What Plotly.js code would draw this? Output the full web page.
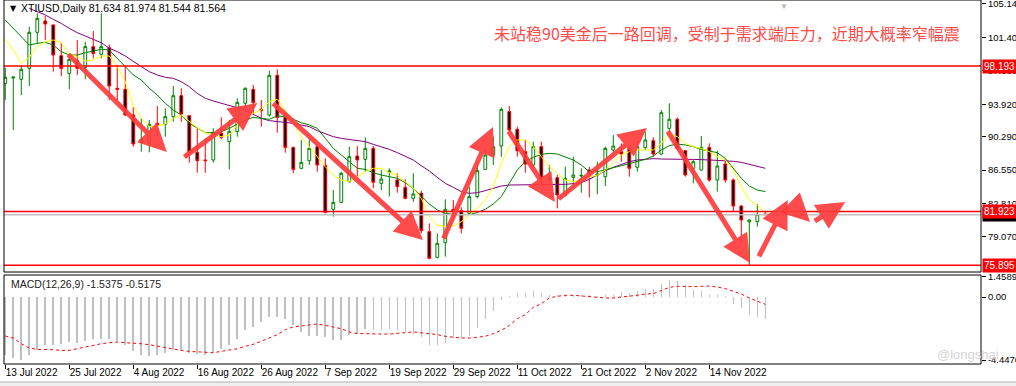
<!DOCTYPE html>
<html>
<head>
<meta charset="utf-8">
<script src="https://cdn.plot.ly/plotly-3.0.1.min.js"></script>
<style>body{margin:0;background:#fff;overflow:hidden}</style>
</head>
<body>
<div id="chart" style="width:1016px;height:386px"></div>
<script>
// ---------- DATA ----------
const dates = ["13 Jul 2022","14 Jul 2022","15 Jul 2022","18 Jul 2022","19 Jul 2022","20 Jul 2022","21 Jul 2022","22 Jul 2022","25 Jul 2022","26 Jul 2022","27 Jul 2022","28 Jul 2022","29 Jul 2022",
"1 Aug 2022","2 Aug 2022","3 Aug 2022","4 Aug 2022","5 Aug 2022","8 Aug 2022","9 Aug 2022","10 Aug 2022","11 Aug 2022","12 Aug 2022","15 Aug 2022","16 Aug 2022","17 Aug 2022","18 Aug 2022","19 Aug 2022","22 Aug 2022","23 Aug 2022","24 Aug 2022","25 Aug 2022","26 Aug 2022","29 Aug 2022","30 Aug 2022","31 Aug 2022",
"1 Sep 2022","2 Sep 2022","5 Sep 2022","6 Sep 2022","7 Sep 2022","8 Sep 2022","9 Sep 2022","12 Sep 2022","13 Sep 2022","14 Sep 2022","15 Sep 2022","16 Sep 2022","19 Sep 2022","20 Sep 2022","21 Sep 2022","22 Sep 2022","23 Sep 2022","26 Sep 2022","27 Sep 2022","28 Sep 2022","29 Sep 2022","30 Sep 2022",
"3 Oct 2022","4 Oct 2022","5 Oct 2022","6 Oct 2022","7 Oct 2022","10 Oct 2022","11 Oct 2022","12 Oct 2022","13 Oct 2022","14 Oct 2022","17 Oct 2022","18 Oct 2022","19 Oct 2022","20 Oct 2022","21 Oct 2022","24 Oct 2022","25 Oct 2022","26 Oct 2022","27 Oct 2022","28 Oct 2022","31 Oct 2022",
"1 Nov 2022","2 Nov 2022","3 Nov 2022","4 Nov 2022","7 Nov 2022","8 Nov 2022","9 Nov 2022","10 Nov 2022","11 Nov 2022","14 Nov 2022","15 Nov 2022","16 Nov 2022","17 Nov 2022","18 Nov 2022","21 Nov 2022","22 Nov 2022","23 Nov 2022"];

const openP = [96.25,96.85,96.7,97.93,101.96,103.22,102.78,99.35,97.37,98.79,
98.04,100.36,99.5,100.24,95.7,95.58,92.71,89.65,89.62,91.78,
91.67,92.53,94.87,92.64,88.54,87.68,87.68,90.66,89.73,90.85,
94.02,95.58,93.35,92.71,97.15,92.45,89.09,86.75,87.6,89.17,
87.08,82.16,82.94,85.25,88.12,87.75,88.98,85.07,86.3,85.44,
84.62,83.39,83.95,79.66,76.79,78.43,82.16,82.01,81.71,83.58,
86.63,88.24,89.24,93.09,91.11,88.61,87.12,89.17,85.5,85.7,
83.76,85.74,85.89,86.56,86.0,85.81,88.8,88.61,88.98,86.86,
89.06,89.84,88.35,91.22,92.23,88.72,86.75,86.56,89.09,85.44,
87.23,85.44,82.53,80.75,80.78,81.634];

const highP = [98.0,97.0,98.3,102.6,104.08,103.78,102.85,100.8,99.6,101.1,
100.91,102.1,104.08,100.62,98.3,98.19,93.57,92.34,92.15,93.72,
93.46,95.95,95.7,92.71,91.22,90.1,91.22,92.45,92.15,94.58,
95.8,96.07,94.39,97.67,97.82,92.9,89.17,89.92,90.1,89.24,
87.86,84.32,86.37,89.17,89.24,90.21,89.24,86.56,86.75,86.19,
85.52,86.19,84.25,80.59,79.47,83.28,83.2,82.38,84.7,87.49,
89.17,90.29,93.57,93.72,91.41,89.92,89.73,89.73,87.1,86.0,
86.93,88.05,86.75,86.93,87.49,89.17,90.47,89.54,89.17,89.73,
90.85,90.21,93.27,94.02,92.45,88.8,87.68,90.36,89.54,88.72,
87.75,85.63,82.64,81.05,82.76,81.974];

const lowP = [94.4,91.03,94.95,95.95,100.73,101.1,97.56,97.07,95.58,97.19,
96.7,99.05,99.05,94.39,94.39,92.6,89.17,88.61,88.54,90.29,
90.29,91.96,91.96,87.38,86.26,86.26,87.38,89.99,86.63,90.29,
92.9,92.71,91.41,92.53,90.74,88.5,86.19,86.63,87.12,86.37,
81.71,81.34,82.83,85.14,85.81,86.37,84.51,84.32,83.6,84.02,
83.28,83.02,79.47,76.57,76.68,76.87,80.97,79.47,81.53,83.39,
86.56,87.12,88.05,90.74,88.05,86.26,86.93,85.07,84.9,82.27,
83.58,84.7,84.02,83.5,83.84,84.77,88.12,87.49,85.81,86.37,
88.8,88.05,88.24,90.74,88.87,85.81,85.07,86.49,85.25,84.14,
85.14,81.9,78.54,75.895,80.22,81.544];

const closeP = [96.93,96.95,97.82,101.96,103.52,102.89,99.42,97.93,98.94,97.93,
100.36,99.6,100.36,95.95,95.58,92.71,89.47,89.99,91.67,91.56,
92.53,94.87,92.82,88.54,87.6,87.6,90.74,90.21,90.85,94.13,
95.7,94.09,93.2,97.15,92.45,89.09,86.63,87.42,88.98,87.12,
81.82,82.94,86.19,88.05,87.68,88.98,85.18,85.55,86.45,84.7,
83.39,83.88,79.77,76.68,78.36,82.16,81.97,80.04,83.58,86.49,
88.24,89.17,93.35,91.03,88.72,87.23,89.17,85.63,85.65,83.76,
85.63,86.0,85.96,86.19,86.1,88.98,89.24,88.35,86.75,89.17,
89.92,88.35,92.97,92.23,88.98,86.0,87.49,89.09,85.44,87.01,
85.44,82.53,80.97,80.97,81.6,81.564];

const maYellow = [101.17,99.98,98.49,99.16,100.36,100.91,101.1,100.8,99.53,99.24,
98.75,98.86,99.31,99.31,98.12,96.44,93.72,92.34,91.41,91.48,
91.71,92.34,92.71,91.96,91.3,90.74,90.47,90.29,90.47,91.59,
92.71,92.9,93.27,94.2,94.46,93.27,91.78,90.29,89.17,88.05,
86.93,86.0,85.44,85.25,85.81,86.37,86.75,86.75,86.26,86.0,
85.25,84.51,83.39,81.34,80.41,80.22,80.29,80.78,81.53,82.27,
83.2,84.7,87.3,89.17,89.92,89.92,89.17,88.05,86.93,86.19,
85.44,85.25,85.5,85.81,86.0,86.56,87.3,88.24,88.61,88.8,
88.8,88.8,89.54,90.66,90.29,89.54,89.17,88.98,88.61,88.05,
87.68,86.56,84.7,83.2,82.64,81.7];

const maGreen = [103.34,102.4,101.47,100.54,100.73,100.84,100.54,99.8,99.42,99.42,
99.68,99.91,100.06,99.98,99.05,98.12,97.19,96.63,95.7,94.95,
94.02,93.27,92.71,91.78,91.22,90.74,90.74,90.85,91.22,91.71,
92.15,92.45,92.34,92.23,92.6,92.53,92.23,91.85,91.59,91.22,
90.1,88.98,88.24,87.49,86.75,86.63,86.26,86.0,85.81,85.63,
85.14,84.51,83.65,82.76,82.09,81.71,81.6,81.53,81.6,81.79,
82.16,82.76,83.58,85.14,86.56,87.49,87.98,88.31,88.42,88.35,
88.05,87.68,87.12,86.37,86.37,86.56,86.82,87.04,87.3,87.49,
87.75,88.12,88.8,89.28,89.47,89.36,89.17,88.87,88.72,88.5,
87.86,86.75,85.63,84.77,84.32,84.14];

const maPurple = [null,null,null,104.64,104.27,103.9,103.41,102.96,102.4,101.92,
101.55,101.17,100.8,100.17,99.8,99.31,98.68,98.12,97.56,97.19,
96.93,96.81,96.44,95.88,95.13,94.58,94.28,94.02,93.79,93.57,
93.27,92.79,92.34,92.08,92.0,91.93,91.78,91.59,91.41,90.96,
90.66,90.29,90.1,89.99,89.84,89.73,89.43,89.17,88.87,88.5,
88.05,87.68,87.04,86.45,85.74,85.07,84.62,84.14,83.95,84.02,
84.25,84.51,84.77,84.88,84.88,84.96,84.96,84.88,84.88,84.88,
84.96,85.03,85.14,85.52,86.0,86.48,86.86,87.19,87.49,87.68,
87.79,87.83,87.79,87.75,87.75,87.75,87.75,87.75,87.68,87.64,
87.6,87.53,87.42,87.19,87.01,86.75];

const macdMain = [-4.06,-4.30,-4.46,-4.06,-3.76,-3.40,-3.40,-3.29,-3.17,-3.24,
-3.12,-2.98,-2.93,-2.98,-3.12,-3.40,-3.83,-4.11,-4.15,-4.06,
-3.92,-3.76,-3.76,-3.92,-3.99,-4.06,-3.87,-3.64,-3.36,-2.93,
-2.35,-2.11,-1.76,-1.41,-1.41,-1.57,-2.00,-2.46,-2.75,-2.75,
-2.82,-3.05,-3.05,-2.70,-2.58,-2.28,-2.35,-2.35,-2.23,-2.35,
-2.46,-2.58,-2.82,-3.40,-3.40,-3.22,-2.89,-2.89,-2.75,-2.18,
-1.53,-1.01,-0.23,0.07,0.28,0.28,0.45,0.28,0.16,0.12,
0.16,0.12,0.12,0.12,0.05,0.12,0.16,0.35,0.28,0.45,
0.59,0.59,0.92,1.22,1.15,0.87,0.52,0.45,0.12,0.12,
0.05,-0.49,-0.77,-1.24,-1.43,-1.5375];

const macdSignal = [-2.75,-2.89,-3.29,-3.59,-3.69,-3.69,-3.71,-3.76,-3.76,-3.64,
-3.52,-3.40,-3.29,-3.22,-3.17,-3.22,-3.24,-3.29,-3.36,-3.47,
-3.59,-3.69,-3.76,-3.83,-3.87,-3.92,-3.92,-3.83,-3.76,-3.64,
-3.47,-3.33,-3.12,-2.89,-2.65,-2.30,-2.11,-2.04,-1.95,-1.90,
-2.00,-2.11,-2.23,-2.46,-2.58,-2.58,-2.61,-2.61,-2.61,-2.58,
-2.51,-2.46,-2.51,-2.58,-2.65,-2.77,-2.84,-2.89,-2.89,-2.82,
-2.77,-2.58,-2.35,-2.00,-1.53,-1.24,-0.73,-0.47,-0.07,0.05,
0.12,0.12,0.09,0.02,-0.02,-0.07,-0.07,0.00,0.05,0.12,
0.21,0.23,0.45,0.68,0.75,0.73,0.73,0.75,0.77,0.70,
0.59,0.40,0.21,-0.07,-0.31,-0.5175];

const tickLabels = ["13 Jul 2022","25 Jul 2022","4 Aug 2022","16 Aug 2022","26 Aug 2022","7 Sep 2022","19 Sep 2022","29 Sep 2022","11 Oct 2022","21 Oct 2022","2 Nov 2022","14 Nov 2022"];
const priceTicks = [105.140,101.400,97.660,93.920,90.290,86.550,82.810,79.070];
const macdTicks = [1.4589, 0, -4.4476];
const macdTickText = ["1.4589","0.00","-4.4476"];
const levels = [98.193, 81.923, 75.895];
const bidPrice = 81.564;

// trend arrows drawn on the chart: [tail bar index, tail price, head bar index, head price]
const arrowTailIdx   = [7.7, 22.2, 33.3, 54.7, 62.8, 68.96, 82.7, 94.1, 98.8, 101.0];
const arrowTailPrice = [99.65, 87.9, 94.17, 78.73, 91.04, 83.2, 91.04, 76.72, 82.31, 80.74];
const arrowHeadIdx   = [20.2, 31.5, 52.2, 60.96, 68.7, 80.2, 93.1, 97.8, 100.6, 104.97];
const arrowHeadPrice = [88.57, 94.05, 78.73, 91.37, 82.98, 91.26, 76.16, 83.2, 80.74, 82.98];

const headerText = "XTIUSD,Daily 81.634 81.974 81.544 81.564";
const macdText = "MACD(12,26,9) -1.5375 -0.5175";
const noteText = "未站稳90美金后一路回调，受制于需求端压力，近期大概率窄幅震";

// ---------- TRACES ----------
const FONT = "Liberation Sans, Arial, sans-serif";
const traces = [
  {type:'candlestick', x:dates, open:openP, high:highP, low:lowP, close:closeP,
   xaxis:'x', yaxis:'y', whiskerwidth:0, hoverinfo:'skip',
   increasing:{line:{color:'#008000', width:1}, fillcolor:'#ffffff'},
   decreasing:{line:{color:'#ff0000', width:1}, fillcolor:'#000000'}},
  {type:'scatter', mode:'lines', x:dates, y:maPurple, xaxis:'x', yaxis:'y', line:{color:'#800080', width:1}, hoverinfo:'skip'},
  {type:'scatter', mode:'lines', x:dates, y:maGreen, xaxis:'x', yaxis:'y', line:{color:'#008000', width:1}, hoverinfo:'skip'},
  {type:'scatter', mode:'lines', x:dates, y:maYellow, xaxis:'x', yaxis:'y', line:{color:'#ffff00', width:1}, hoverinfo:'skip'},
  {type:'bar', x:dates, y:macdMain, xaxis:'x', yaxis:'y2', width:0.2, marker:{color:'#c0c0c0', line:{width:0}}, hoverinfo:'skip'},
  {type:'scatter', mode:'lines', x:dates, y:macdSignal, xaxis:'x', yaxis:'y2', line:{color:'#ff0000', width:1, dash:'dot'}, hoverinfo:'skip'}
];

// ---------- LAYOUT ----------
const shapes = [];
shapes.push({type:'rect', layer:'below', xref:'paper', yref:'paper', x0:-0.01, x1:1.05, y0:-0.075, y1:-0.0495, fillcolor:'#f0f0f0', line:{width:0}});
shapes.push({type:'line', layer:'below', xref:'paper', yref:'paper', x0:-0.01, x1:1.05, y0:-0.0495, y1:-0.0495, line:{color:'#b0b0b0', width:1}});
levels.forEach(v => shapes.push({type:'line', xref:'paper', yref:'y', x0:0, x1:1, y0:v, y1:v, line:{color:'#ff0000', width:1.5}}));
shapes.push({type:'line', xref:'paper', yref:'y', x0:0, x1:1, y0:bidPrice, y1:bidPrice, line:{color:'#c0c0c0', width:1.5}});
shapes.push({type:'rect', xref:'paper', yref:'y domain', x0:0, x1:1, y0:0, y1:1, line:{color:'#000', width:1}});
shapes.push({type:'rect', xref:'paper', yref:'y2 domain', x0:0, x1:1, y0:0, y1:1, line:{color:'#000', width:1}});

const annotations = [];
for (let k = 0; k < arrowTailIdx.length; k++) {
  annotations.push({xref:'x', yref:'y', axref:'x', ayref:'y',
    x:arrowHeadIdx[k], y:arrowHeadPrice[k], ax:arrowTailIdx[k], ay:arrowTailPrice[k],
    text:'', showarrow:true, arrowhead:2, arrowsize:1.12, arrowwidth:5,
    arrowcolor:'rgba(255,60,60,0.92)', standoff:0, startstandoff:0});
}
annotations.push({xref:'paper', yref:'paper', x:0.0045, y:0.978, xanchor:'left', yanchor:'middle', showarrow:false,
  text:'▼', font:{family:'DejaVu Sans', size:8, color:'#000'}});
annotations.push({xref:'paper', yref:'paper', x:0.0155, y:0.978, xanchor:'left', yanchor:'middle', showarrow:false,
  text:headerText, font:{family:FONT, size:10.5, color:'#000'}});
annotations.push({xref:'paper', yref:'paper', x:0.005, y:0.2198, xanchor:'left', yanchor:'middle', showarrow:false,
  text:macdText, font:{family:FONT, size:10.5, color:'#222'}});
annotations.push({xref:'paper', yref:'paper', x:0.4995, y:0.9093, xanchor:'left', yanchor:'middle', showarrow:false,
  text:noteText, font:{family:'Noto Sans CJK SC', size:16, color:'#ff4a4a'}});
annotations.push({xref:'paper', yref:'paper', x:0.953, y:0.025, xanchor:'left', yanchor:'middle', showarrow:false,
  text:'@longshai', font:{family:FONT, size:13, color:'#d6d6d6'}});
annotations.push({xref:'paper', yref:'paper', x:0.798, y:1.0, xanchor:'center', yanchor:'top', showarrow:false,
  text:'▼', font:{family:FONT, size:8, color:'#b4b4b4'}});
// price tags on the right axis
annotations.push({xref:'paper', yref:'y', x:1, xshift:1, y:bidPrice, xanchor:'left', yanchor:'middle', showarrow:false,
  text:bidPrice.toFixed(3), bgcolor:'#000', borderpad:1, font:{family:FONT, size:10, color:'#fff'}});
levels.forEach(v => annotations.push({xref:'paper', yref:'y', x:1, xshift:1, y:v, xanchor:'left', yanchor:'middle', showarrow:false,
  text:v.toFixed(3), bgcolor:'#ff0000', borderpad:1, font:{family:FONT, size:10, color:'#fff'}}));

const layout = {
  width:1016, height:386, autosize:false,
  margin:{l:4, r:35, t:0, b:22, pad:0},
  paper_bgcolor:'#ffffff', plot_bgcolor:'#ffffff',
  showlegend:false, boxgap:0.5, bargap:0,
  xaxis:{type:'category', anchor:'y2', range:[-0.16, 121.96], fixedrange:true,
    tickmode:'array', tickvals:tickLabels, ticktext:tickLabels, tickangle:0,
    ticks:'outside', ticklen:4, tickcolor:'#000', showgrid:false, zeroline:false, showline:false,
    ticklabelposition:'outside right', ticklabelstandoff:-1, automargin:false,
    tickfont:{family:FONT, size:10, color:'#000'},
    rangeslider:{visible:false}},
  yaxis:{domain:[0.2527, 1], anchor:'x', side:'right', range:[75.15, 105.575], fixedrange:true,
    tickmode:'array', tickvals:priceTicks, ticktext:priceTicks.map(v => v.toFixed(3)),
    ticks:'outside', ticklen:4, tickcolor:'#000', showgrid:false, zeroline:false, showline:false, automargin:false,
    ticklabeloverflow:'allow', tickfont:{family:FONT, size:9.5, color:'#000'}},
  yaxis2:{domain:[0, 0.2445], anchor:'x', side:'right', range:[-4.718, 1.549], fixedrange:true,
    tickmode:'array', tickvals:macdTicks, ticktext:macdTickText,
    ticks:'outside', ticklen:4, tickcolor:'#000', showgrid:false, zeroline:false, showline:false, automargin:false,
    ticklabeloverflow:'allow', tickfont:{family:FONT, size:9.5, color:'#000'}},
  shapes:shapes,
  annotations:annotations
};

Plotly.newPlot('chart', traces, layout, {displayModeBar:false, staticPlot:true});
</script>
</body>
</html>
